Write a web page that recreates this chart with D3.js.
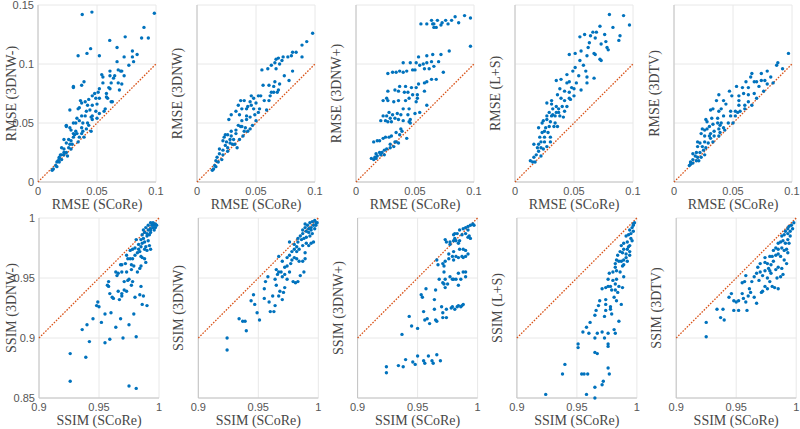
<!DOCTYPE html>
<html><head><meta charset="utf-8">
<script src="https://cdn.jsdelivr.net/npm/d3@7"></script>
<style>html,body{margin:0;padding:0;background:#fff;}svg{display:block;}
.tick{font-family:'Liberation Sans',Arial,sans-serif;font-size:11px;fill:#555;}
.lab{font-family:'Liberation Serif','Times New Roman',serif;font-size:14px;fill:#474747;}
</style>
</head><body>
<svg id="chart" width="800" height="429"></svg>
<script>
// ---------- DATA ----------
const methods = ["3DNW-", "3DNW", "3DNW+", "L+S", "3DTV"];
const rmseTicks = [0, 0.05, 0.1, 0.15];
const rmseTickLabels = ["0", "0.05", "0.1", "0.15"];
const ssimTicks = [0.85, 0.9, 0.95, 1];
const ssimTickLabels = ["0.85", "0.9", "0.95", "1"];
const rmseXTicks = [0, 0.05, 0.1];
const rmseXTickLabels = ["0", "0.05", "0.1"];
const ssimXTicks = [0.9, 0.95, 1];
const ssimXTickLabels = ["0.9", "0.95", "1"];

const rmse_3DNWm = [[0.0375,0.142],[0.0457,0.144],[0.0986,0.143],[0.0898,0.131],[0.0935,0.122],[0.0878,0.122],[0.0739,0.123],[0.0608,0.120],[0.067,0.114],[0.0446,0.113],[0.0415,0.109],[0.034,0.107],[0.052,0.107],[0.080,0.111],[0.084,0.108],[0.080,0.106],[0.073,0.106],[0.067,0.102],[0.081,0.102],[0.077,0.099],[0.068,0.095],[0.070,0.094],[0.071,0.094],[0.073,0.090],[0.065,0.090],[0.061,0.094],[0.054,0.091],[0.055,0.089],[0.061,0.090],[0.064,0.088],[0.062,0.084],[0.068,0.084],[0.071,0.083],[0.060,0.080],[0.069,0.078],[0.052,0.079],[0.051,0.076],[0.058,0.075],[0.061,0.079],[0.058,0.072],[0.059,0.071],[0.062,0.068],[0.063,0.068],[0.039,0.085],[0.037,0.082],[0.030,0.081],[0.030,0.080],[0.055,0.084],[0.048,0.075],[0.046,0.073],[0.049,0.071],[0.052,0.071],[0.043,0.070],[0.040,0.068],[0.036,0.069],[0.037,0.067],[0.042,0.065],[0.046,0.065],[0.050,0.066],[0.035,0.063],[0.034,0.062],[0.041,0.060],[0.044,0.061],[0.049,0.060],[0.052,0.058],[0.057,0.062],[0.056,0.060],[0.027,0.061],[0.037,0.056],[0.040,0.056],[0.045,0.055],[0.046,0.056],[0.033,0.054],[0.035,0.052],[0.030,0.050],[0.032,0.050],[0.038,0.050],[0.042,0.050],[0.046,0.053],[0.050,0.054],[0.024,0.048],[0.024,0.047],[0.037,0.046],[0.041,0.045],[0.043,0.048],[0.028,0.044],[0.032,0.043],[0.038,0.043],[0.045,0.043],[0.030,0.041],[0.031,0.040],[0.033,0.041],[0.037,0.041],[0.030,0.038],[0.035,0.038],[0.039,0.038],[0.022,0.036],[0.026,0.036],[0.028,0.035],[0.034,0.034],[0.024,0.033],[0.027,0.032],[0.029,0.032],[0.026,0.029],[0.020,0.029],[0.022,0.028],[0.028,0.028],[0.022,0.025],[0.024,0.025],[0.020,0.023],[0.022,0.023],[0.025,0.022],[0.018,0.021],[0.020,0.019],[0.017,0.018],[0.016,0.017],[0.018,0.017],[0.015,0.014],[0.016,0.013],[0.013,0.011],[0.012,0.010],[0.019,0.023],[0.018,0.020],[0.027,0.046]];

const rmse_3DNW = [[0.098,0.126],[0.093,0.119],[0.089,0.116],[0.084,0.110],[0.081,0.110],[0.089,0.106],[0.080,0.107],[0.077,0.106],[0.073,0.106],[0.069,0.105],[0.067,0.104],[0.072,0.103],[0.066,0.101],[0.063,0.099],[0.070,0.100],[0.067,0.096],[0.060,0.096],[0.055,0.095],[0.081,0.094],[0.074,0.090],[0.078,0.086],[0.066,0.085],[0.070,0.083],[0.056,0.082],[0.061,0.082],[0.065,0.081],[0.069,0.078],[0.065,0.076],[0.063,0.076],[0.068,0.076],[0.054,0.073],[0.052,0.073],[0.046,0.073],[0.048,0.071],[0.057,0.069],[0.061,0.069],[0.062,0.073],[0.037,0.069],[0.040,0.069],[0.045,0.068],[0.050,0.067],[0.043,0.064],[0.046,0.065],[0.035,0.065],[0.033,0.060],[0.038,0.062],[0.042,0.062],[0.048,0.062],[0.053,0.062],[0.052,0.059],[0.059,0.061],[0.027,0.053],[0.029,0.057],[0.036,0.057],[0.042,0.056],[0.045,0.055],[0.049,0.057],[0.042,0.053],[0.050,0.052],[0.038,0.052],[0.035,0.048],[0.037,0.047],[0.038,0.047],[0.033,0.044],[0.041,0.046],[0.047,0.048],[0.045,0.045],[0.040,0.043],[0.043,0.043],[0.029,0.043],[0.024,0.040],[0.026,0.040],[0.029,0.039],[0.033,0.041],[0.039,0.039],[0.023,0.038],[0.028,0.036],[0.031,0.036],[0.036,0.036],[0.022,0.035],[0.025,0.034],[0.028,0.033],[0.032,0.032],[0.024,0.031],[0.026,0.029],[0.019,0.028],[0.022,0.027],[0.026,0.026],[0.019,0.024],[0.022,0.023],[0.017,0.021],[0.021,0.019],[0.016,0.018],[0.018,0.017],[0.015,0.014],[0.016,0.013],[0.013,0.010],[0.014,0.011],[0.030,0.032],[0.034,0.029]];

const rmse_3DNWp = [[0.092,0.141],[0.097,0.139],[0.084,0.140],[0.081,0.137],[0.078,0.134],[0.076,0.137],[0.073,0.135],[0.072,0.133],[0.069,0.137],[0.066,0.134],[0.066,0.131],[0.064,0.137],[0.065,0.134],[0.060,0.134],[0.055,0.134],[0.068,0.131],[0.087,0.135],[0.097,0.115],[0.079,0.111],[0.072,0.108],[0.065,0.108],[0.060,0.107],[0.053,0.106],[0.070,0.102],[0.064,0.102],[0.060,0.101],[0.057,0.100],[0.051,0.101],[0.046,0.101],[0.040,0.101],[0.054,0.099],[0.058,0.096],[0.062,0.096],[0.066,0.098],[0.074,0.093],[0.050,0.095],[0.043,0.094],[0.040,0.093],[0.037,0.094],[0.034,0.093],[0.031,0.093],[0.027,0.092],[0.048,0.095],[0.068,0.087],[0.064,0.087],[0.060,0.085],[0.058,0.084],[0.053,0.083],[0.051,0.080],[0.042,0.081],[0.047,0.080],[0.037,0.081],[0.033,0.078],[0.036,0.077],[0.041,0.076],[0.044,0.076],[0.048,0.074],[0.058,0.077],[0.052,0.074],[0.027,0.077],[0.026,0.071],[0.023,0.069],[0.027,0.069],[0.032,0.068],[0.036,0.069],[0.042,0.069],[0.045,0.071],[0.051,0.068],[0.052,0.071],[0.040,0.062],[0.045,0.062],[0.060,0.065],[0.028,0.059],[0.031,0.057],[0.035,0.058],[0.038,0.057],[0.044,0.057],[0.050,0.058],[0.054,0.059],[0.026,0.056],[0.023,0.056],[0.029,0.054],[0.033,0.054],[0.036,0.053],[0.021,0.052],[0.025,0.052],[0.027,0.051],[0.030,0.051],[0.040,0.052],[0.045,0.051],[0.046,0.053],[0.046,0.050],[0.038,0.045],[0.034,0.042],[0.037,0.040],[0.039,0.043],[0.043,0.037],[0.030,0.039],[0.028,0.038],[0.025,0.038],[0.023,0.037],[0.020,0.035],[0.018,0.035],[0.015,0.034],[0.034,0.034],[0.036,0.033],[0.032,0.030],[0.029,0.029],[0.026,0.028],[0.024,0.027],[0.022,0.025],[0.020,0.025],[0.017,0.024],[0.021,0.023],[0.016,0.021],[0.024,0.023],[0.018,0.022],[0.013,0.020],[0.015,0.019],[0.017,0.020],[0.029,0.032],[0.033,0.034]];

const rmse_LS = [[0.080,0.142],[0.092,0.141],[0.097,0.133],[0.083,0.131],[0.072,0.132],[0.069,0.127],[0.066,0.127],[0.059,0.125],[0.055,0.123],[0.064,0.124],[0.068,0.122],[0.076,0.125],[0.077,0.119],[0.089,0.124],[0.088,0.120],[0.063,0.118],[0.073,0.117],[0.056,0.111],[0.062,0.114],[0.078,0.114],[0.079,0.112],[0.067,0.109],[0.068,0.108],[0.072,0.104],[0.073,0.103],[0.046,0.108],[0.051,0.109],[0.061,0.107],[0.055,0.103],[0.058,0.099],[0.051,0.097],[0.049,0.094],[0.054,0.090],[0.060,0.094],[0.061,0.089],[0.067,0.088],[0.044,0.091],[0.039,0.087],[0.035,0.086],[0.046,0.085],[0.044,0.084],[0.052,0.084],[0.048,0.080],[0.061,0.084],[0.056,0.078],[0.050,0.079],[0.038,0.079],[0.042,0.077],[0.046,0.076],[0.050,0.073],[0.031,0.069],[0.036,0.074],[0.039,0.071],[0.046,0.071],[0.047,0.070],[0.031,0.066],[0.027,0.067],[0.032,0.062],[0.035,0.064],[0.037,0.062],[0.040,0.064],[0.044,0.064],[0.042,0.060],[0.037,0.059],[0.035,0.059],[0.032,0.057],[0.029,0.059],[0.027,0.056],[0.031,0.056],[0.034,0.056],[0.038,0.056],[0.041,0.055],[0.027,0.053],[0.024,0.052],[0.030,0.051],[0.034,0.050],[0.023,0.050],[0.020,0.046],[0.026,0.046],[0.029,0.047],[0.033,0.047],[0.036,0.047],[0.025,0.043],[0.023,0.042],[0.028,0.042],[0.030,0.038],[0.021,0.038],[0.025,0.038],[0.016,0.032],[0.020,0.032],[0.022,0.034],[0.025,0.034],[0.019,0.029],[0.022,0.029],[0.024,0.028],[0.027,0.030],[0.020,0.026],[0.018,0.023],[0.022,0.022],[0.016,0.021],[0.013,0.018],[0.015,0.017],[0.017,0.017],[0.030,0.034],[0.042,0.069]];

const rmse_3DTV = [[0.097,0.109],[0.088,0.101],[0.087,0.099],[0.092,0.096],[0.079,0.094],[0.074,0.092],[0.066,0.092],[0.065,0.089],[0.070,0.085],[0.068,0.085],[0.061,0.085],[0.074,0.086],[0.077,0.086],[0.082,0.089],[0.084,0.084],[0.079,0.083],[0.072,0.081],[0.068,0.075],[0.070,0.071],[0.076,0.077],[0.063,0.080],[0.059,0.075],[0.063,0.074],[0.055,0.069],[0.063,0.068],[0.060,0.065],[0.066,0.065],[0.055,0.065],[0.047,0.077],[0.053,0.081],[0.049,0.073],[0.055,0.073],[0.058,0.080],[0.038,0.074],[0.042,0.069],[0.036,0.069],[0.044,0.066],[0.048,0.060],[0.052,0.060],[0.056,0.060],[0.040,0.062],[0.038,0.060],[0.033,0.062],[0.031,0.061],[0.048,0.056],[0.042,0.056],[0.037,0.054],[0.052,0.056],[0.032,0.054],[0.027,0.053],[0.028,0.051],[0.030,0.047],[0.033,0.049],[0.037,0.050],[0.040,0.050],[0.042,0.046],[0.046,0.050],[0.050,0.050],[0.043,0.044],[0.038,0.045],[0.039,0.042],[0.034,0.043],[0.031,0.041],[0.024,0.045],[0.026,0.044],[0.028,0.045],[0.023,0.041],[0.026,0.039],[0.030,0.039],[0.034,0.039],[0.038,0.039],[0.020,0.034],[0.022,0.033],[0.026,0.034],[0.029,0.033],[0.033,0.034],[0.020,0.030],[0.024,0.030],[0.027,0.029],[0.016,0.024],[0.019,0.025],[0.022,0.025],[0.025,0.027],[0.018,0.022],[0.020,0.021],[0.023,0.021],[0.026,0.023],[0.016,0.019],[0.019,0.018],[0.014,0.017],[0.016,0.016],[0.013,0.014],[0.014,0.015],[0.021,0.018],[0.031,0.037],[0.039,0.048],[0.054,0.059],[0.060,0.062]];

const ssim_3DNWm = [[0.926,0.887],[0.926,0.864],[0.975,0.860],[0.981,0.858],[0.939,0.884],[0.942,0.897],[0.955,0.896],[0.959,0.899],[0.970,0.900],[0.981,0.901],[0.936,0.907],[0.940,0.911],[0.945,0.916],[0.952,0.913],[0.955,0.920],[0.960,0.921],[0.964,0.909],[0.968,0.916],[0.975,0.911],[0.979,0.920],[0.948,0.927],[0.949,0.930],[0.950,0.926],[0.961,0.934],[0.962,0.933],[0.959,0.937],[0.958,0.943],[0.957,0.944],[0.958,0.947],[0.967,0.932],[0.969,0.935],[0.969,0.937],[0.973,0.939],[0.966,0.939],[0.971,0.940],[0.977,0.944],[0.980,0.934],[0.984,0.936],[0.987,0.935],[0.985,0.943],[0.986,0.928],[0.990,0.927],[0.971,0.947],[0.974,0.948],[0.975,0.949],[0.978,0.947],[0.965,0.952],[0.964,0.955],[0.966,0.954],[0.969,0.955],[0.973,0.955],[0.977,0.957],[0.979,0.960],[0.982,0.955],[0.984,0.958],[0.985,0.960],[0.989,0.963],[0.969,0.961],[0.968,0.961],[0.972,0.962],[0.977,0.961],[0.974,0.966],[0.976,0.966],[0.978,0.966],[0.973,0.969],[0.980,0.969],[0.976,0.973],[0.978,0.974],[0.980,0.975],[0.982,0.971],[0.984,0.972],[0.986,0.967],[0.988,0.966],[0.983,0.974],[0.985,0.976],[0.988,0.974],[0.990,0.973],[0.993,0.974],[0.983,0.978],[0.986,0.979],[0.988,0.980],[0.991,0.981],[0.985,0.982],[0.987,0.983],[0.990,0.985],[0.992,0.986],[0.986,0.986],[0.988,0.988],[0.991,0.990],[0.993,0.990],[0.995,0.992],[0.996,0.994],[0.997,0.995],[0.994,0.994],[0.993,0.991],[0.989,0.992],[0.987,0.990],[0.990,0.987],[0.993,0.988],[0.996,0.990],[0.997,0.992],[0.998,0.994],[0.995,0.996],[0.993,0.996],[0.991,0.994],[0.989,0.976],[0.992,0.977],[0.985,0.968],[0.981,0.982]];

const ssim_3DNW = [[0.924,0.900],[0.924,0.890],[0.934,0.916],[0.937,0.914],[0.939,0.914],[0.940,0.906],[0.944,0.931],[0.946,0.936],[0.949,0.921],[0.951,0.915],[0.947,0.928],[0.955,0.933],[0.955,0.941],[0.956,0.947],[0.958,0.951],[0.962,0.935],[0.959,0.930],[0.960,0.922],[0.963,0.922],[0.964,0.927],[0.967,0.935],[0.968,0.939],[0.970,0.932],[0.971,0.938],[0.972,0.942],[0.965,0.944],[0.964,0.949],[0.966,0.953],[0.965,0.957],[0.967,0.955],[0.969,0.955],[0.970,0.951],[0.972,0.953],[0.974,0.949],[0.976,0.955],[0.979,0.947],[0.981,0.946],[0.983,0.947],[0.985,0.952],[0.988,0.955],[0.970,0.964],[0.972,0.959],[0.974,0.960],[0.977,0.962],[0.967,0.968],[0.974,0.967],[0.976,0.969],[0.978,0.965],[0.980,0.967],[0.982,0.966],[0.984,0.964],[0.987,0.964],[0.989,0.971],[0.989,0.966],[0.978,0.972],[0.980,0.974],[0.982,0.972],[0.976,0.980],[0.980,0.978],[0.982,0.976],[0.984,0.974],[0.987,0.977],[0.990,0.979],[0.992,0.977],[0.994,0.979],[0.996,0.980],[0.983,0.980],[0.986,0.982],[0.988,0.983],[0.990,0.984],[0.993,0.985],[0.995,0.987],[0.987,0.987],[0.990,0.989],[0.992,0.991],[0.994,0.992],[0.996,0.994],[0.998,0.996],[0.993,0.996],[0.991,0.994],[0.989,0.992],[0.987,0.990],[0.989,0.995],[0.994,0.990],[0.997,0.991],[0.998,0.994],[0.999,0.996],[0.995,0.997],[0.997,0.998],[0.992,0.988],[0.985,0.985],[0.983,0.983]];

const ssim_3DNWp = [[0.924,0.876],[0.924,0.871],[0.934,0.877],[0.938,0.876],[0.940,0.882],[0.946,0.880],[0.948,0.878],[0.950,0.885],[0.955,0.881],[0.956,0.879],[0.959,0.885],[0.962,0.881],[0.963,0.879],[0.966,0.886],[0.969,0.881],[0.937,0.903],[0.943,0.918],[0.945,0.910],[0.950,0.908],[0.955,0.922],[0.956,0.915],[0.958,0.916],[0.960,0.912],[0.964,0.924],[0.965,0.915],[0.966,0.914],[0.970,0.926],[0.971,0.921],[0.971,0.917],[0.974,0.917],[0.974,0.924],[0.978,0.925],[0.979,0.926],[0.981,0.924],[0.983,0.926],[0.984,0.927],[0.986,0.926],[0.987,0.927],[0.988,0.928],[0.964,0.932],[0.953,0.936],[0.954,0.934],[0.957,0.941],[0.965,0.940],[0.968,0.949],[0.971,0.946],[0.972,0.945],[0.973,0.942],[0.973,0.949],[0.975,0.945],[0.977,0.951],[0.979,0.949],[0.980,0.949],[0.982,0.949],[0.984,0.954],[0.984,0.944],[0.986,0.949],[0.988,0.955],[0.990,0.955],[0.990,0.951],[0.972,0.955],[0.966,0.965],[0.967,0.961],[0.971,0.962],[0.972,0.960],[0.973,0.964],[0.976,0.970],[0.976,0.966],[0.979,0.968],[0.980,0.965],[0.980,0.972],[0.982,0.968],[0.984,0.967],[0.987,0.968],[0.990,0.968],[0.992,0.970],[0.988,0.967],[0.985,0.974],[0.988,0.974],[0.990,0.973],[0.973,0.982],[0.974,0.980],[0.977,0.980],[0.977,0.978],[0.982,0.981],[0.984,0.979],[0.985,0.981],[0.992,0.984],[0.993,0.985],[0.994,0.983],[0.980,0.986],[0.981,0.987],[0.983,0.987],[0.985,0.990],[0.988,0.991],[0.990,0.992],[0.992,0.993],[0.994,0.994],[0.996,0.995],[0.992,0.990],[0.990,0.987],[0.987,0.986],[0.981,0.983],[0.980,0.981],[0.997,0.994]];

const ssim_LS = [[0.924,0.853],[0.958,0.853],[0.965,0.850],[0.965,0.859],[0.971,0.861],[0.972,0.864],[0.977,0.870],[0.976,0.875],[0.938,0.870],[0.940,0.878],[0.954,0.870],[0.956,0.870],[0.959,0.870],[0.951,0.895],[0.951,0.892],[0.965,0.888],[0.967,0.887],[0.955,0.905],[0.960,0.904],[0.965,0.900],[0.967,0.904],[0.971,0.905],[0.973,0.900],[0.976,0.895],[0.976,0.893],[0.976,0.904],[0.981,0.907],[0.982,0.904],[0.985,0.914],[0.958,0.909],[0.961,0.913],[0.965,0.919],[0.966,0.923],[0.968,0.927],[0.973,0.918],[0.974,0.923],[0.974,0.928],[0.978,0.926],[0.978,0.924],[0.979,0.920],[0.969,0.931],[0.974,0.932],[0.981,0.934],[0.983,0.931],[0.987,0.928],[0.971,0.941],[0.974,0.942],[0.976,0.943],[0.978,0.943],[0.979,0.940],[0.982,0.940],[0.984,0.938],[0.985,0.943],[0.988,0.942],[0.976,0.949],[0.980,0.948],[0.982,0.945],[0.983,0.949],[0.977,0.954],[0.980,0.955],[0.983,0.956],[0.986,0.955],[0.989,0.951],[0.988,0.960],[0.982,0.962],[0.983,0.965],[0.985,0.964],[0.987,0.964],[0.989,0.965],[0.991,0.967],[0.992,0.964],[0.994,0.969],[0.984,0.969],[0.986,0.972],[0.988,0.971],[0.989,0.974],[0.992,0.974],[0.994,0.972],[0.987,0.977],[0.989,0.979],[0.992,0.980],[0.994,0.977],[0.996,0.981],[0.991,0.985],[0.993,0.986],[0.995,0.987],[0.997,0.989],[0.994,0.990],[0.996,0.992],[0.997,0.994],[0.998,0.996],[0.997,0.995],[0.995,0.983],[0.993,0.976],[0.991,0.970],[0.989,0.961],[0.982,0.959]];

const ssim_3DTV = [[0.925,0.913],[0.925,0.901],[0.934,0.924],[0.939,0.924],[0.937,0.917],[0.940,0.915],[0.944,0.934],[0.946,0.937],[0.948,0.931],[0.950,0.930],[0.952,0.931],[0.952,0.923],[0.955,0.937],[0.956,0.933],[0.958,0.930],[0.959,0.923],[0.960,0.935],[0.962,0.938],[0.965,0.934],[0.967,0.929],[0.955,0.946],[0.957,0.947],[0.958,0.952],[0.963,0.947],[0.965,0.951],[0.967,0.954],[0.969,0.948],[0.971,0.938],[0.972,0.939],[0.974,0.943],[0.976,0.941],[0.978,0.947],[0.980,0.943],[0.982,0.942],[0.985,0.941],[0.987,0.951],[0.989,0.953],[0.992,0.962],[0.970,0.955],[0.972,0.952],[0.974,0.956],[0.976,0.950],[0.978,0.956],[0.983,0.957],[0.985,0.959],[0.988,0.958],[0.968,0.959],[0.970,0.962],[0.974,0.963],[0.976,0.962],[0.979,0.961],[0.981,0.964],[0.974,0.967],[0.978,0.968],[0.980,0.968],[0.983,0.969],[0.985,0.970],[0.987,0.968],[0.990,0.965],[0.993,0.971],[0.981,0.973],[0.983,0.975],[0.985,0.974],[0.988,0.975],[0.990,0.973],[0.992,0.974],[0.994,0.979],[0.985,0.979],[0.987,0.980],[0.989,0.981],[0.991,0.979],[0.993,0.982],[0.988,0.985],[0.990,0.986],[0.993,0.987],[0.995,0.989],[0.997,0.991],[0.991,0.989],[0.994,0.993],[0.996,0.994],[0.998,0.996],[0.993,0.991],[0.995,0.985],[0.977,0.958],[0.979,0.954],[0.984,0.950],[0.961,0.941],[0.948,0.923]];

const rmseSeries = [rmse_3DNWm, rmse_3DNW, rmse_3DNWp, rmse_LS, rmse_3DTV];
const ssimSeries = [ssim_3DNWm, ssim_3DNW, ssim_3DNWp, ssim_LS, ssim_3DTV];

// ---------- DRAW ----------
const svg = d3.select("#chart");
const blue = "#0072BD", orange = "#D95319";
const gridCol = "#e8e8e8", axisCol = "#c4c4c4";

function panel(opts) {
  const {left, top, width, height, xDom, yDom, xTicks, xTickLabels, yTicks, yTickLabels, showY, data, xLabel, yLabel, yLabelX} = opts;
  const x = d3.scaleLinear().domain(xDom).range([left, left + width]);
  const y = d3.scaleLinear().domain(yDom).range([top + height, top]);
  const g = svg.append("g");
  g.selectAll(".gx").data(xTicks).join("line")
    .attr("x1", d => x(d)).attr("x2", d => x(d)).attr("y1", top).attr("y2", top + height)
    .attr("stroke", gridCol).attr("stroke-width", 1);
  g.selectAll(".gy").data(yTicks).join("line")
    .attr("x1", left).attr("x2", left + width).attr("y1", d => y(d)).attr("y2", d => y(d))
    .attr("stroke", gridCol).attr("stroke-width", 1);
  g.append("line").attr("x1", left).attr("x2", left).attr("y1", top).attr("y2", top + height).attr("stroke", axisCol);
  g.append("line").attr("x1", left).attr("x2", left + width).attr("y1", top + height).attr("y2", top + height).attr("stroke", axisCol);
  const d0 = Math.max(xDom[0], yDom[0]), d1 = Math.min(xDom[1], yDom[1]);
  g.append("line").attr("x1", x(d0)).attr("y1", y(d0)).attr("x2", x(d1)).attr("y2", y(d1))
    .attr("stroke", orange).attr("stroke-width", 1.3).attr("stroke-dasharray", "1.6,1.4");
  g.selectAll("circle").data(data).join("circle")
    .attr("cx", d => x(d[0])).attr("cy", d => y(d[1])).attr("r", 1.7).attr("fill", blue);
  g.selectAll(".xt").data(xTicks).join("text").attr("class", "tick")
    .attr("x", d => x(d)).attr("y", top + height + 13).attr("text-anchor", "middle")
    .text((d, i) => xTickLabels[i]);
  if (showY) {
    g.selectAll(".yt").data(yTicks).join("text").attr("class", "tick")
      .attr("x", left - 4).attr("y", d => y(d) + 4).attr("text-anchor", "end")
      .text((d, i) => yTickLabels[i]);
  }
  g.append("text").attr("class", "lab").attr("x", left + width / 2).attr("y", top + height + 27).attr("text-anchor", "middle")
    .text(xLabel);
  g.append("text").attr("class", "lab").attr("transform", `translate(${yLabelX},${top + height / 2}) rotate(-90)`).attr("text-anchor", "middle")
    .text(yLabel);
}

methods.forEach((m, i) => {
  const lt = 38 + i * 159;
  panel({left: lt, top: 5, width: 118, height: 177,
    xDom: [0, 0.1], yDom: [0, 0.15], xTicks: rmseXTicks, xTickLabels: rmseXTickLabels,
    yTicks: rmseTicks, yTickLabels: rmseTickLabels, showY: i === 0,
    data: rmseSeries[i], xLabel: "RMSE (SCoRe)", yLabel: `RMSE (${m})`,
    yLabelX: i === 0 ? 16 : lt - 15});
  const lb = 39 + i * 159.3;
  panel({left: lb, top: 218, width: 120, height: 180,
    xDom: [0.9, 1], yDom: [0.85, 1], xTicks: ssimXTicks, xTickLabels: ssimXTickLabels,
    yTicks: ssimTicks, yTickLabels: ssimTickLabels, showY: i === 0,
    data: ssimSeries[i], xLabel: "SSIM (SCoRe)", yLabel: `SSIM (${m})`,
    yLabelX: i === 0 ? 16 : lb - 15});
});
</script>
</body></html>
